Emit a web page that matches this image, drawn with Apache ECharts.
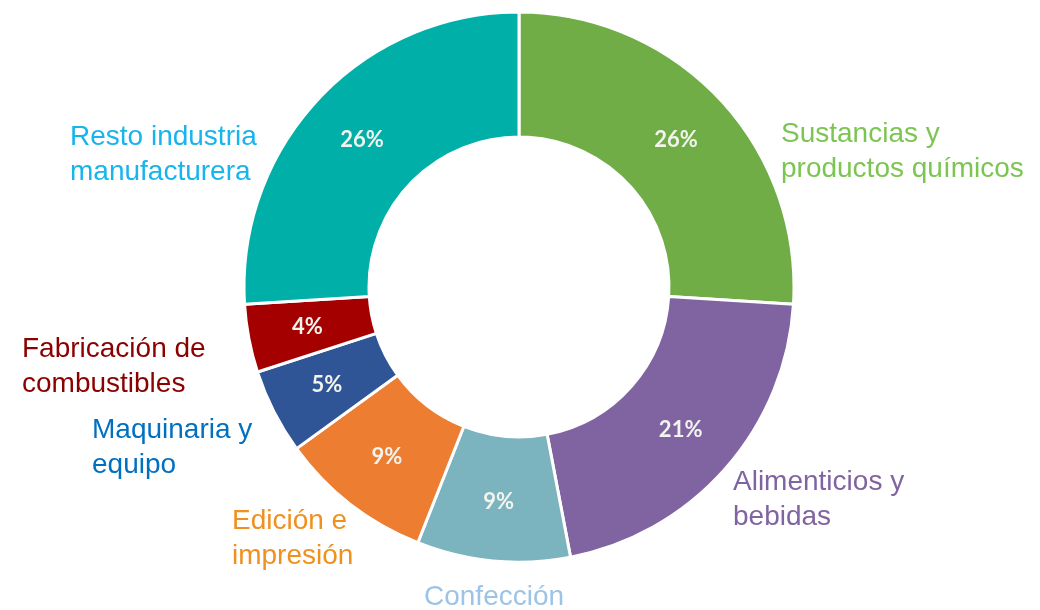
<!DOCTYPE html>
<html>
<head>
<meta charset="utf-8">
<script src="https://cdn.jsdelivr.net/npm/echarts@6/dist/echarts.min.js"></script>
<style>
  html, body { margin: 0; padding: 0; background: #fff; }
  #main { width: 1040px; height: 610px; }
</style>
</head>
<body>
<div id="main"></div>
<script>
// sectores, en orden horario desde las 12
var categories = [
  'Sustancias y\nproductos químicos',
  'Alimenticios y\nbebidas',
  'Confección',
  'Edición e\nimpresión',
  'Maquinaria y\nequipo',
  'Fabricación de\ncombustibles',
  'Resto industria\nmanufacturera'
];
var shares = [26, 21, 9, 9, 5, 4, 26];

var sliceColors = ['#70AD47', '#8064A2', '#7BB3BF', '#ED7D31', '#2F5597', '#A50000', '#00B0A8'];
var textColors = ['#7CC552', '#8064A2', '#9DC3E6', '#F0901E', '#0070C0', '#8B0000', '#18B4EC'];
// posición (izquierda, centro vertical) de cada etiqueta exterior
var labelPos = [
  [781, 152], [733, 500], [424, 597], [232, 539],
  [92, 448], [22, 367], [70, 155]
];

var ringData = categories.map(function (name, i) {
  return { name: name, value: shares[i], itemStyle: { color: sliceColors[i] } };
});
var labelData = categories.map(function (name, i) {
  return { name: name, value: shares[i], label: { color: textColors[i] } };
});

var myChart = echarts.init(document.getElementById('main'));
myChart.setOption({
  animation: false,
  series: [
    {
      type: 'pie',
      center: [519, 287],
      radius: [150, 275],
      startAngle: 90,
      itemStyle: { borderColor: '#fff', borderWidth: 3 },
      label: {
        position: 'inside',
        formatter: '{c}%',
        color: '#F2F4EE',
        fontFamily: 'Lato',
        fontWeight: 'bold',
        fontSize: 22
      },
      labelLine: { show: false },
      data: ringData
    },
    {
      type: 'pie',
      silent: true,
      center: [519, 287],
      radius: [150, 275],
      startAngle: 90,
      itemStyle: { color: 'transparent' },
      label: {
        position: 'outside',
        formatter: '{b}',
        fontFamily: 'Liberation Sans, Arial',
        fontSize: 28,
        lineHeight: 35
      },
      labelLine: { show: false },
      labelLayout: function (p) {
        return {
          x: labelPos[p.dataIndex][0],
          y: labelPos[p.dataIndex][1],
          align: 'left',
          verticalAlign: 'middle',
          hideOverlap: false
        };
      },
      data: labelData
    }
  ]
});
</script>
</body>
</html>
